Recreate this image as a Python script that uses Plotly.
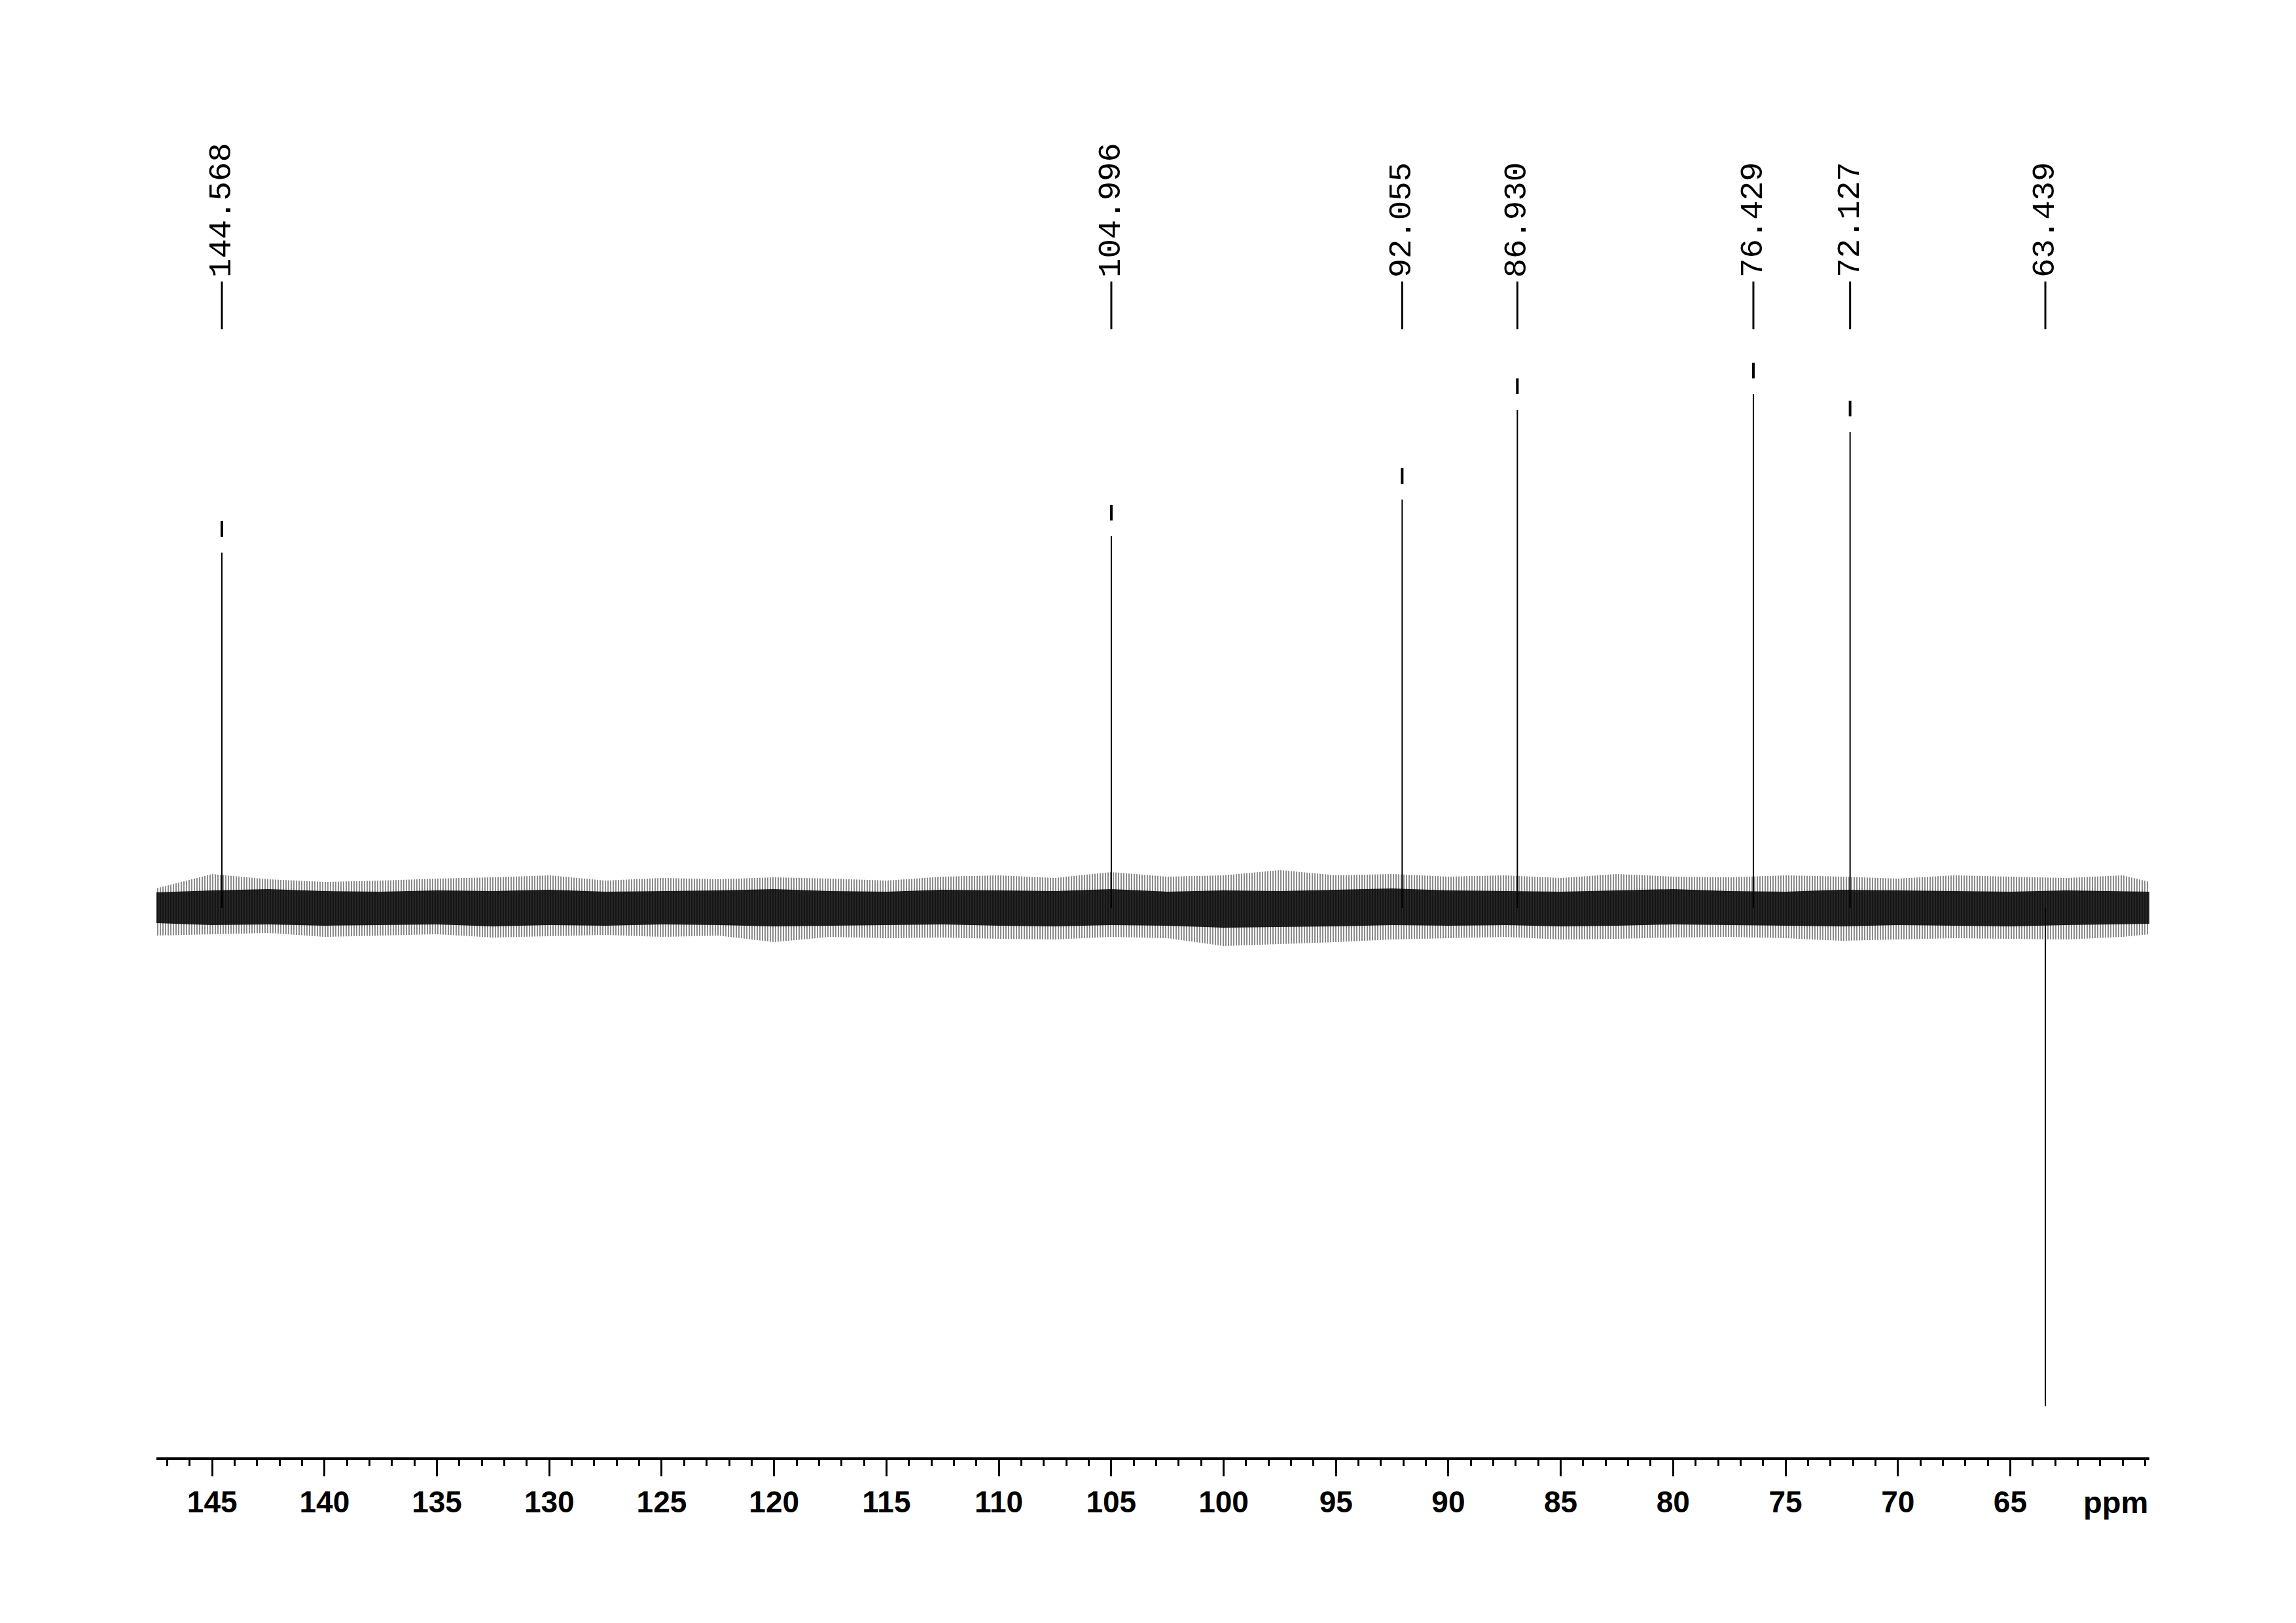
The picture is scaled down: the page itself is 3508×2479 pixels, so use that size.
import plotly.graph_objects as go

# ---------------- data ----------------
peak_ppm = [144.568, 104.996, 92.055, 86.930, 76.429, 72.127, 63.439]
peak_labels = ["144.568", "104.996", "92.055", "86.930", "76.429", "72.127", "63.439"]
peak_height = [543, 568, 624, 761, 785, 727, -761]   # intensity, arbitrary units (baseline = 0)

# baseline noise envelope, read coarsely every 2.5 ppm
noise_ppm = [147.5, 145.0, 142.5, 140.0, 137.5, 135.0, 132.5, 130.0, 127.5, 125.0,
             122.5, 120.0, 117.5, 115.0, 112.5, 110.0, 107.5, 105.0, 102.5, 100.0,
             97.5, 95.0, 92.5, 90.0, 87.5, 85.0, 82.5, 80.0, 77.5, 75.0,
             72.5, 70.0, 67.5, 65.0, 62.5, 60.0, 58.8]
core_hi = [24, 27, 29, 26, 25, 27, 26, 28, 25, 26, 27, 29, 26, 25, 28, 27, 26, 29, 25, 27,
           26, 28, 30, 27, 26, 25, 27, 29, 26, 25, 28, 27, 26, 25, 27, 26, 25]
core_lo = [-23, -26, -25, -27, -26, -25, -28, -26, -27, -25, -26, -28, -27, -26, -25, -27, -28, -26, -27, -30,
           -29, -28, -26, -27, -26, -28, -27, -25, -26, -27, -28, -26, -27, -28, -26, -25, -24]
spike_hi = [30, 52, 44, 40, 42, 45, 47, 50, 42, 46, 44, 47, 45, 42, 48, 50, 46, 55, 48, 50,
            58, 50, 52, 48, 50, 46, 52, 48, 47, 50, 48, 45, 50, 48, 46, 50, 40]
spike_lo = [-42, -40, -38, -44, -42, -40, -45, -43, -41, -44, -42, -52, -44, -46, -45, -47, -48, -44, -46, -58,
            -55, -52, -48, -46, -44, -48, -47, -45, -44, -46, -50, -48, -46, -47, -48, -44, -40]

major_ticks = [145, 140, 135, 130, 125, 120, 115, 110, 105, 100, 95, 90, 85, 80, 75, 70, 65]
major_labels = [str(v) for v in major_ticks]

# ---------------- geometry ----------------
W, H = 3508, 2479
BODY = 8                          # default page margin of the browser
ML, MR, MT = 239 - BODY, 224 + BODY, 0
AXIS_Y = 2226 - BODY              # axis line position inside the figure
MB = H - AXIS_Y
BASE_Y = 1387 - BODY              # baseline position inside the figure
X_RANGE = [147.48, 58.81]
Y_RANGE = [BASE_Y - AXIS_Y, BASE_Y]   # 1 unit == 1 px

fig = go.Figure()

# outer (sparse spikes) band
fig.add_trace(go.Scatter(x=noise_ppm, y=spike_hi, mode="lines", line=dict(width=0, color="black"),
                         hoverinfo="skip", showlegend=False))
fig.add_trace(go.Scatter(x=noise_ppm, y=spike_lo, mode="lines", line=dict(width=0, color="black"),
                         fill="tonexty", fillcolor="rgba(255,255,255,0)",
                         fillpattern=dict(shape="|", size=4, solidity=0.45, fgcolor="black",
                                          bgcolor="rgba(255,255,255,0)"),
                         hoverinfo="skip", showlegend=False))
# dense core band
fig.add_trace(go.Scatter(x=noise_ppm, y=core_hi, mode="lines", line=dict(width=0, color="black"),
                         hoverinfo="skip", showlegend=False))
fig.add_trace(go.Scatter(x=noise_ppm, y=core_lo, mode="lines", line=dict(width=0, color="black"),
                         fill="tonexty", fillcolor="rgba(0,0,0,0.85)",
                         hoverinfo="skip", showlegend=False))

# peaks as vertical sticks
px, py = [], []
for p, h in zip(peak_ppm, peak_height):
    px += [p, p, None]
    py += [0, h, None]
fig.add_trace(go.Scatter(x=px, y=py, mode="lines", line=dict(color="black", width=2),
                         hoverinfo="skip", showlegend=False))

# peak-pick dashes above positive peaks
dx, dy = [], []
for p, h in zip(peak_ppm, peak_height):
    if h > 0:
        dx += [p, p, None]
        dy += [h + 24, h + 48, None]
fig.add_trace(go.Scatter(x=dx, y=dy, mode="lines", line=dict(color="black", width=4),
                         hoverinfo="skip", showlegend=False))

# label leader lines + rotated labels
LINE_Y0, LINE_Y1, TEXT_Y = 1387 - 503, 1387 - 430, 1387 - 426
for p, lab in zip(peak_ppm, peak_labels):
    fig.add_shape(type="line", x0=p, x1=p, y0=LINE_Y0, y1=LINE_Y1, xref="x", yref="y",
                  line=dict(color="black", width=3))
    fig.add_annotation(x=p, y=TEXT_Y, xref="x", yref="y", text=lab, showarrow=False,
                       textangle=-90, xanchor="center", yanchor="bottom",
                       font=dict(family="Liberation Mono", size=49, color="black"))

fig.add_annotation(x=1, y=0, xref="paper", yref="paper", text="<b>ppm</b>", showarrow=False,
                   xanchor="right", yanchor="top", yshift=-40,
                   font=dict(family="Liberation Sans", size=47, color="black"))

fig.update_xaxes(range=X_RANGE, showgrid=False, zeroline=False,
                 showline=True, linecolor="black", linewidth=4,
                 ticks="outside", ticklen=25, tickwidth=3, tickcolor="black",
                 tickvals=major_ticks, ticktext=major_labels,
                 tickfont=dict(family="Liberation Sans", size=46, color="black", weight="bold"),
                 minor=dict(dtick=1, tick0=0, ticks="outside", ticklen=9, tickwidth=3, tickcolor="black"))
fig.update_yaxes(range=Y_RANGE, visible=False, showgrid=False, zeroline=False)

fig.update_layout(width=W, height=H, margin=dict(l=ML, r=MR, t=MT, b=MB),
                  plot_bgcolor="white", paper_bgcolor="white")

fig.write_html("out.html")
